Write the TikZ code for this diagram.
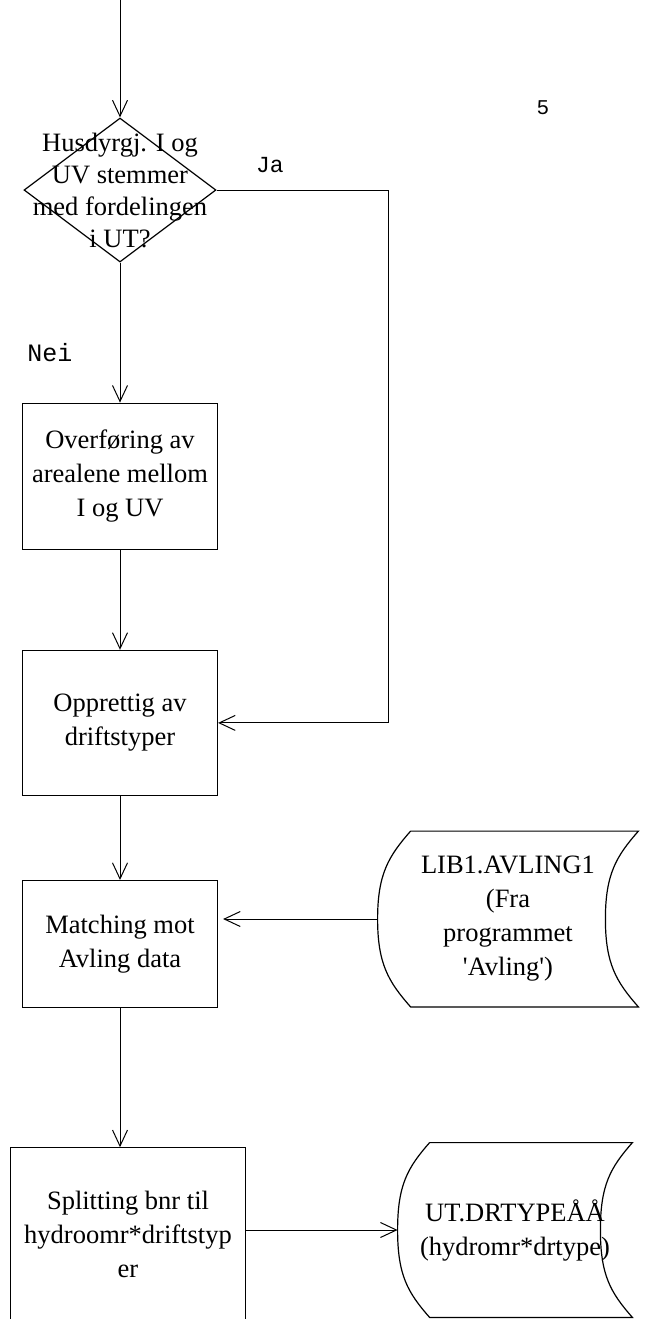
\documentclass[tikz,border=0pt]{standalone}
\usepackage{fontspec}
\setmainfont{Liberation Serif}
\newfontfamily\monofont{Liberation Mono}
\usetikzlibrary{positioning,shapes.geometric,arrows.meta,calc}

% outline of a stored-data node: curved left and right ends
\newcommand\drawstore[2]{%
  \draw[line width=0.6pt] ($(#1.north west)+(#2,0)$) -- (#1.north east)
    .. controls +(-22,25) and +(0,-45) .. ($(#1.east)+(-#2,0)$)
    .. controls +(0,45) and +(-22,-25) .. (#1.south east)
    -- ($(#1.south west)+(#2,0)$)
    .. controls +(-22,-25) and +(0,45) .. (#1.west)
    .. controls +(0,-45) and +(-22,25) .. ($(#1.north west)+(#2,0)$);}

\begin{document}
\begin{tikzpicture}[x=0.5pt,y=-0.5pt,
  font=\fontsize{13.25}{17}\selectfont,
  box/.style={draw,line width=0.6pt,minimum width=97.5pt,minimum height=72.5pt,align=center,inner sep=2pt},
  dia/.style={draw,diamond,line width=0.6pt,minimum width=96pt,minimum height=72pt,inner sep=0pt},
  store/.style={minimum width=130pt,minimum height=87.5pt,align=center,inner sep=0pt},
  lbl/.style={font=\monofont\fontsize{11.5}{13}\selectfont},
  arr/.style={-{Straight Barb[length=8pt,width=7.5pt]},line width=0.5pt}]
  \useasboundingbox (0,0) rectangle (647,1319);

  % main column
  \node[dia] (dec) at (120,190) {};
  \node[align=center,font=\fontsize{13.25}{16}\selectfont] (dectxt) at (dec) {Husdyrgj. I og\\UV stemmer\\med fordelingen\\i UT?};
  \coordinate[above=59pt of dec.north] (entry);
  \node[box,below=70pt of dec,minimum height=73pt] (move) {Overføring av\\arealene mellom\\I og UV};
  \node[box,below=50pt of move] (make) {Opprettig av\\driftstyper};
  \node[box,below=42pt of make,minimum height=63.5pt] (match) {Matching mot\\Avling data};
  \node[box,below=69.5pt of match,xshift=4pt,minimum width=117.5pt,minimum height=87pt] (split) {Splitting bnr til\\hydroomr*driftstyp\\er};

  % data stores
  \node[store] (lib) at (508,919) {LIB1.AVLING1\\(Fra\\programmet\\\textquotesingle Avling\textquotesingle)};
  \drawstore{lib}{33}
  \node[store,minimum width=117pt,minimum height=87pt] (ut) at (515,1230) {UT.DRTYPEÅÅ\\(hydromr*drtype)};
  \drawstore{ut}{32}

  % labels
  \node[lbl] (ja) at (270,165) {Ja};
  \node[lbl,font=\monofont\fontsize{12.5}{14}\selectfont] (nei) at (50,353) {Nei};
  \node[lbl,font=\monofont\fontsize{10.5}{12}\selectfont] (pagenum) at (543,108) {5};

  % connectors
  \coordinate (jaturn) at (388,190);
  \draw[arr] (entry) -- (dec);
  \draw[arr] (dec) -- (move);
  \draw[arr] (move) -- (make);
  \draw[arr] (make) -- (match);
  \draw[arr] (match.south) -- (match.south |- split.north);
  \draw[arr] (dec.east) -- (jaturn) |- (make.east);
  \draw[arr,shorten >=2.5pt] (lib.west) -- (match.east |- lib.west);
  \draw[arr] (split.east |- ut.west) -- (ut.west);
\end{tikzpicture}
\end{document}
